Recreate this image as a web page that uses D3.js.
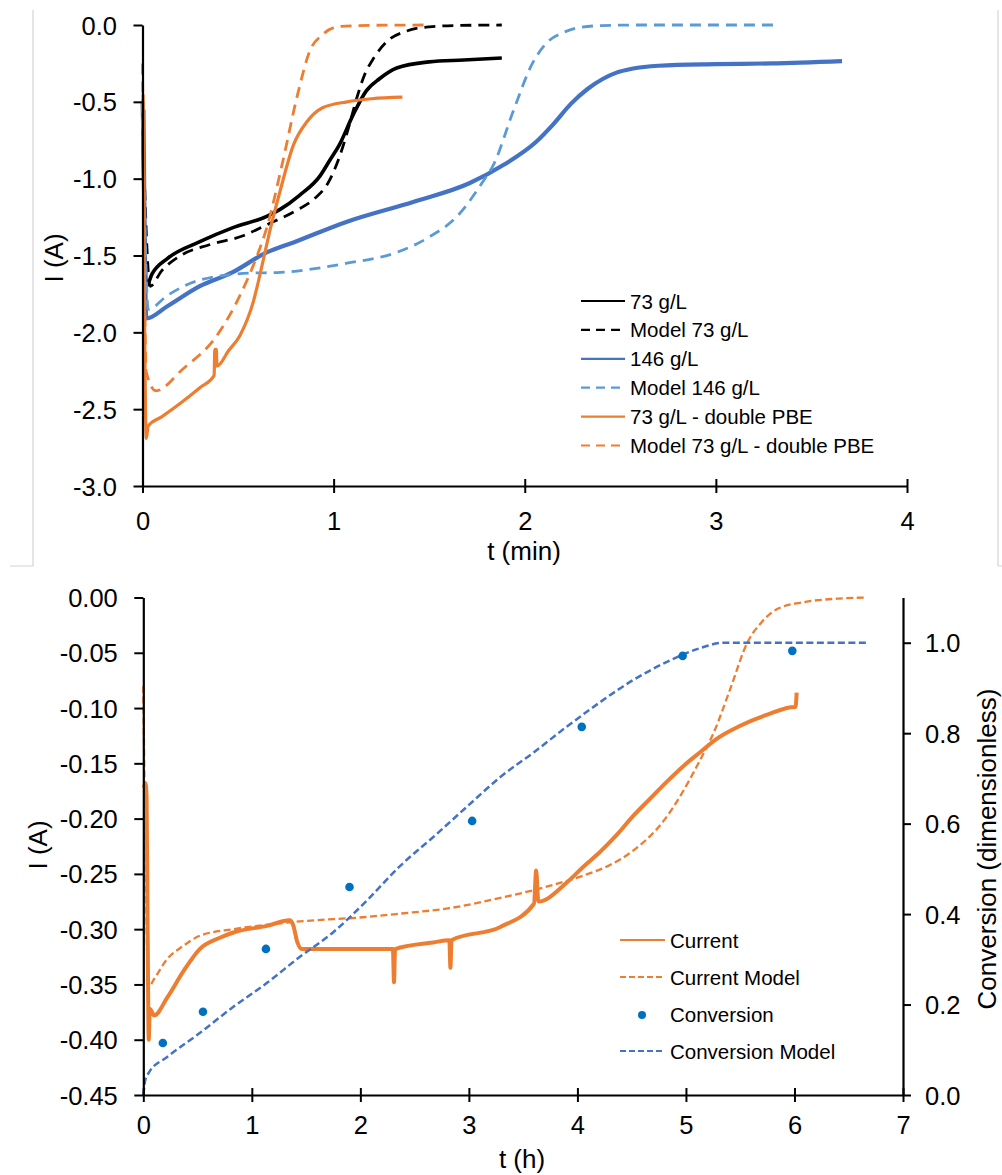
<!DOCTYPE html>
<html><head><meta charset="utf-8">
<script src="https://cdn.jsdelivr.net/npm/d3@7"></script>
<style>
body{margin:0;background:#fff}
svg{display:block}
text{font-family:"Liberation Sans",Arial,sans-serif;fill:#000}
</style>
</head><body>
<svg id="c" width="1002" height="1175"></svg>
<script>
// ---------------- DATA (top chart: t in min, I in A) ----------------
const topXTicks = [0, 1, 2, 3, 4];
const topYTicks = [0, -0.5, -1.0, -1.5, -2.0, -2.5, -3.0];
const topLegend = ["73 g/L", "Model 73 g/L", "146 g/L", "Model 146 g/L", "73 g/L - double PBE", "Model 73 g/L - double PBE"];

const exp73 = [[0,-0.5],[0.02,-1.70],[0.05,-1.62],[0.13,-1.52],[0.3,-1.41],[0.47,-1.32],[0.65,-1.245],[0.72,-1.20],[0.82,-1.11],[0.93,-0.98],[0.98,-0.88],[1.03,-0.78],[1.1,-0.59],[1.17,-0.43],[1.24,-0.35],[1.33,-0.28],[1.5,-0.24],[1.68,-0.228],[1.88,-0.215]];
const model73 = [[0,-0.6],[0.04,-1.70],[0.1,-1.60],[0.2,-1.50],[0.35,-1.43],[0.53,-1.37],[0.65,-1.30],[0.8,-1.21],[0.9,-1.13],[0.97,-1.03],[1.03,-0.86],[1.08,-0.66],[1.12,-0.48],[1.16,-0.33],[1.21,-0.215],[1.28,-0.106],[1.38,-0.04],[1.5,-0.012],[1.65,-0.003],[1.88,0]];
const exp146 = [[0.005,-0.55],[0.02,-1.91],[0.13,-1.83],[0.3,-1.70],[0.47,-1.61],[0.65,-1.48],[0.8,-1.41],[1.07,-1.28],[1.42,-1.15],[1.71,-1.03],[1.89,-0.91],[2.06,-0.76],[2.15,-0.645],[2.24,-0.515],[2.33,-0.415],[2.41,-0.35],[2.48,-0.31],[2.56,-0.285],[2.7,-0.265],[3.0,-0.255],[3.29,-0.25],[3.66,-0.235]];
const model146 = [[0,-0.5],[0.03,-1.85],[0.13,-1.76],[0.3,-1.66],[0.56,-1.615],[0.72,-1.61],[1.07,-1.55],[1.33,-1.48],[1.5,-1.38],[1.65,-1.24],[1.77,-1.04],[1.84,-0.9],[1.94,-0.56],[2.04,-0.25],[2.12,-0.11],[2.2,-0.05],[2.27,-0.02],[2.4,-0.004],[2.6,0],[3.32,0]];
const expDouble = [[0.003,-0.45],[0.02,-2.69],[0.03,-2.61],[0.1,-2.55],[0.21,-2.45],[0.3,-2.36],[0.375,-2.28],[0.378,-2.11],[0.386,-2.11],[0.39,-2.22],[0.45,-2.12],[0.51,-2.02],[0.58,-1.80],[0.63,-1.54],[0.67,-1.32],[0.72,-1.08],[0.79,-0.78],[0.86,-0.63],[0.94,-0.54],[1.07,-0.50],[1.2,-0.48],[1.36,-0.47]];
const modelDouble = [[0,-0.25],[0.02,-2.26],[0.07,-2.38],[0.21,-2.24],[0.39,-2.02],[0.51,-1.76],[0.6,-1.5],[0.65,-1.32],[0.73,-0.91],[0.81,-0.46],[0.875,-0.17],[0.94,-0.065],[1.03,-0.01],[1.2,-0.002],[1.5,0]];

// ---------------- DATA (bottom chart: t in h) ----------------
const botXTicks = [0, 1, 2, 3, 4, 5, 6, 7];
const botYTicks = [0, -0.05, -0.10, -0.15, -0.20, -0.25, -0.30, -0.35, -0.40, -0.45];
const botRTicks = [0, 0.2, 0.4, 0.6, 0.8, 1.0];
const botLegend = ["Current", "Current Model", "Conversion", "Conversion Model"];

const current = [[0.005,-0.172],[0.02,-0.168],[0.03,-0.18],[0.04,-0.30],[0.05,-0.40],[0.06,-0.372],[0.1,-0.378],[0.22,-0.362],[0.37,-0.338],[0.52,-0.318],[0.7,-0.308],[0.83,-0.303],[1.14,-0.297],[1.35,-0.292],[1.38,-0.296],[1.42,-0.312],[1.46,-0.318],[2.05,-0.318],[2.3,-0.318],[2.31,-0.348],[2.32,-0.318],[2.67,-0.312],[2.82,-0.31],[2.83,-0.335],[2.84,-0.31],[3.29,-0.298],[3.6,-0.277],[3.62,-0.247],[3.64,-0.275],[3.9,-0.258],[4.05,-0.244],[4.21,-0.23],[4.36,-0.215],[4.51,-0.198],[4.67,-0.182],[4.82,-0.167],[4.97,-0.153],[5.13,-0.14],[5.28,-0.128],[5.5,-0.116],[5.75,-0.106],[6.0,-0.099],[6.01,-0.099],[6.02,-0.086]];
const currentModel = [[0,-0.08],[0.05,-0.352],[0.1,-0.345],[0.22,-0.327],[0.37,-0.315],[0.52,-0.306],[0.83,-0.300],[1.14,-0.296],[1.44,-0.293],[2.05,-0.289],[2.36,-0.286],[2.82,-0.281],[3.28,-0.272],[3.7,-0.262],[4.04,-0.252],[4.3,-0.242],[4.5,-0.230],[4.81,-0.200],[5.12,-0.149],[5.27,-0.119],[5.4,-0.085],[5.57,-0.040],[5.7,-0.022],[5.85,-0.010],[6.1,-0.004],[6.4,-0.001],[6.67,0]];
const convTime = [0.18, 0.55, 1.13, 1.90, 3.03, 4.04, 4.97, 5.98];
const convValue = [0.115, 0.184, 0.323, 0.46, 0.606, 0.814, 0.971, 0.982];
const convModel = [[0,0],[0.02,0.035],[0.05,0.049],[0.22,0.084],[0.52,0.137],[0.83,0.195],[1.14,0.248],[1.44,0.305],[1.75,0.36],[2.06,0.43],[2.36,0.505],[2.67,0.57],[2.98,0.637],[3.29,0.703],[3.6,0.758],[3.9,0.814],[4.2,0.867],[4.51,0.917],[4.82,0.957],[5.13,0.988],[5.35,1.0],[6.67,1.0]];

// ---------------- DRAWING ----------------
const svg = d3.select("#c");
const FS = 25.5;

// light gray frame around top panel
svg.append("path").attr("d","M33,10V566H10M998,10V566H1002")
  .attr("fill","none").attr("stroke","#d4d4d4").attr("stroke-width",1.2);

function styleAxis(g){
  g.select(".domain").attr("stroke","#000").attr("stroke-width",2.2);
  g.selectAll(".tick line").attr("stroke","#000").attr("stroke-width",2);
  g.selectAll(".tick text").attr("font-size",FS).attr("font-family",'"Liberation Sans",Arial,sans-serif').attr("fill","#000");
}
function leftAxis(y, x0, ticks, fmt){
  const g = svg.append("g").attr("transform",`translate(${x0},0)`)
    .call(d3.axisLeft(y).tickValues(ticks).tickFormat(fmt).tickSize(9).tickSizeOuter(0));
  styleAxis(g);
  g.selectAll(".tick text").attr("x",-25.5).attr("dy",null).attr("y",9);
}
function rightAxis(y, x0, ticks, fmt){
  const g = svg.append("g").attr("transform",`translate(${x0},0)`)
    .call(d3.axisRight(y).tickValues(ticks).tickFormat(fmt).tickSize(8).tickSizeOuter(0));
  styleAxis(g);
  g.selectAll(".tick text").attr("x",22).attr("dy",null).attr("y",9);
}
function bottomAxis(x, y0, ticks, labOff){
  const g = svg.append("g").attr("transform",`translate(0,${y0})`)
    .call(d3.axisBottom(x).tickValues(ticks).tickFormat(d=>String(d)).tickSize(7).tickSizeOuter(0));
  styleAxis(g);
  g.selectAll(".tick line").attr("y1",-7).attr("y2",7);
  g.selectAll(".tick text").attr("dy",null).attr("y",labOff);
}
function title(x, y, txt, rot){
  svg.append("text").attr("transform",`translate(${x},${y})${rot?" rotate(-90)":""}`)
    .attr("text-anchor","middle").attr("font-size",26).text(txt);
}

// ===== TOP CHART =====
const tx = d3.scaleLinear([0,4],[142.5,907]);
const ty = d3.scaleLinear([-3,0],[486,25]);
const tLine = d3.line().x(d=>tx(d[0])).y(d=>ty(d[1])).curve(d3.curveMonotoneX);

const topSeries = [
  {data: exp73, color:"#000000", w:3.6, dash:null},
  {data: model73, color:"#000000", w:2.8, dash:"11,7"},
  {data: exp146, color:"#4472C4", w:4.2, dash:null},
  {data: model146, color:"#5B9BD5", w:2.8, dash:"11,7"},
  {data: expDouble, color:"#ED7D31", w:3.2, dash:null},
  {data: modelDouble, color:"#ED7D31", w:2.8, dash:"11,7"}
];
topSeries.forEach(s=>{
  svg.append("path").attr("d",tLine(s.data)).attr("fill","none")
    .attr("stroke",s.color).attr("stroke-width",s.w)
    .attr("stroke-dasharray",s.dash).attr("stroke-linejoin","round");
});

leftAxis(ty, 142.5, topYTicks, d=>d.toFixed(1));
bottomAxis(tx, 486, topXTicks, 44);
title(524, 560, "t (min)", false);
title(63, 258, "I (A)", true);

// top legend
topLegend.forEach((lab,i)=>{
  const s = topSeries[i];
  const yy = 301 + i*28.9;
  svg.append("line").attr("x1",581).attr("x2",625).attr("y1",yy).attr("y2",yy)
    .attr("stroke",s.color).attr("stroke-width",2.2).attr("stroke-dasharray",s.dash?"9,6":null);
  svg.append("text").attr("x",630).attr("y",yy+7.5).attr("font-size",20.5).text(lab);
});

// ===== BOTTOM CHART =====
const bx = d3.scaleLinear([0,7],[143.3,903]);
const by = d3.scaleLinear([-0.45,0],[1095,597.5]);
const br = d3.scaleLinear([0,1.1],[1095,597.5]);
const bLine = d3.line().x(d=>bx(d[0])).y(d=>by(d[1])).curve(d3.curveMonotoneX);
const rLine = d3.line().x(d=>bx(d[0])).y(d=>br(d[1])).curve(d3.curveMonotoneX);

svg.append("path").attr("d",bLine(current)).attr("fill","none")
  .attr("stroke","#ED7D31").attr("stroke-width",4).attr("stroke-linejoin","round");
svg.append("path").attr("d",bLine(currentModel)).attr("fill","none")
  .attr("stroke","#ED7D31").attr("stroke-width",2.3).attr("stroke-dasharray","7,3.5");
svg.append("path").attr("d",rLine(convModel)).attr("fill","none")
  .attr("stroke","#4472C4").attr("stroke-width",2.5).attr("stroke-dasharray","7,3.5");
svg.append("g").selectAll("circle").data(convTime).join("circle")
  .attr("cx",(d)=>bx(d)).attr("cy",(d,i)=>br(convValue[i])).attr("r",4.3).attr("fill","#0070C0");

leftAxis(by, 143.3, botYTicks, d=>d.toFixed(2));
rightAxis(br, 903, botRTicks, d=>d.toFixed(1));
bottomAxis(bx, 1095, botXTicks, 39);
title(522, 1168, "t (h)", false);
title(47, 845, "I (A)", true);
title(996, 849, "Conversion (dimensionless)", true);

// bottom legend
const botStyles = [
  {type:"line", color:"#ED7D31", dash:null},
  {type:"line", color:"#ED7D31", dash:"6,3"},
  {type:"dot", color:"#0070C0"},
  {type:"line", color:"#4472C4", dash:"6,3"}
];
botLegend.forEach((lab,i)=>{
  const st = botStyles[i];
  const yy = 940 + i*37;
  if(st.type==="line"){
    svg.append("line").attr("x1",620).attr("x2",665).attr("y1",yy).attr("y2",yy)
      .attr("stroke",st.color).attr("stroke-width",2).attr("stroke-dasharray",st.dash);
  } else {
    svg.append("circle").attr("cx",642).attr("cy",yy+1).attr("r",4).attr("fill",st.color);
  }
  svg.append("text").attr("x",670).attr("y",yy+7.5).attr("font-size",20.5).text(lab);
});
</script>
</body></html>
